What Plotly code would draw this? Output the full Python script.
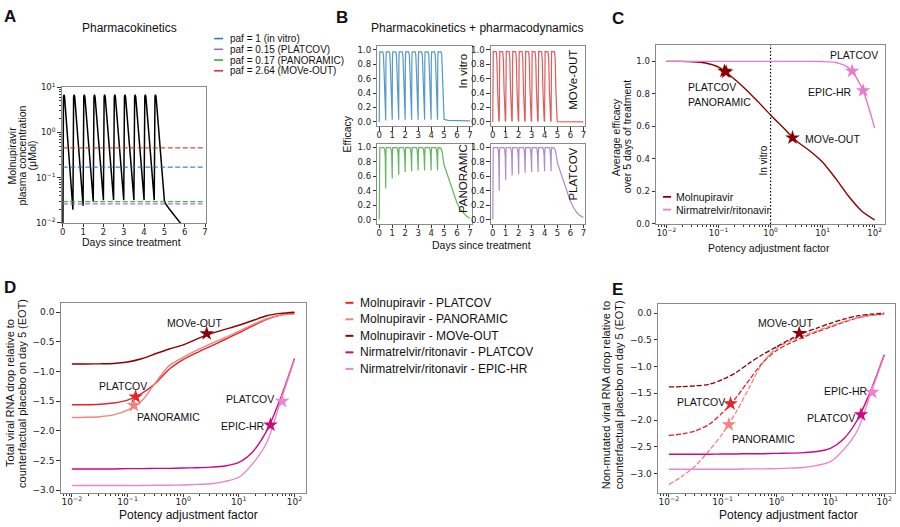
import numpy as np
import plotly.graph_objects as go

W, H = 900, 527


def px(x):
    return x / W


def py(y):
    return 1 - y / H


FONT = "Liberation Sans, Arial, Helvetica, sans-serif"
TICKFONT = "DejaVu Sans, sans-serif"
TXT = "#111111"

# ---------------- Panel A: pharmacokinetics ----------------
pk_days = [
    0.0, 0.015, 0.035, 0.06, 0.09,
    0.5, 0.515, 0.535, 0.56, 0.59,
    1.0, 1.015, 1.035, 1.06, 1.09,
    1.5, 1.515, 1.535, 1.56, 1.59,
    2.0, 2.015, 2.035, 2.06, 2.09,
    2.5, 2.515, 2.535, 2.56, 2.59,
    3.0, 3.015, 3.035, 3.06, 3.09,
    3.5, 3.515, 3.535, 3.56, 3.59,
    4.0, 4.015, 4.035, 4.06, 4.09,
    4.5, 4.515, 4.535, 4.56, 4.59,
    5.0, 5.05, 5.25, 5.5, 5.8]
pk_conc = [
    0.001, 2.5, 6.0, 6.8, 6.0,
    0.0197, 2.5, 6.0, 6.8, 6.0,
    0.024, 2.5, 6.0, 6.8, 6.0,
    0.0297, 2.5, 6.0, 6.8, 6.0,
    0.0317, 2.5, 6.0, 6.8, 6.0,
    0.032, 2.5, 6.0, 6.8, 6.0,
    0.032, 2.5, 6.0, 6.8, 6.0,
    0.032, 2.5, 6.0, 6.8, 6.0,
    0.032, 2.5, 6.0, 6.8, 6.0,
    0.032, 2.5, 6.0, 6.8, 6.0,
    0.031, 0.027, 0.020, 0.0145, 0.0098]
paf_labels = ["paf = 1 (in vitro)", "paf = 0.15 (PLATCOV)",
              "paf = 0.17 (PANORAMIC)", "paf = 2.64 (MOVe-OUT)"]
paf_thresholds = [0.171, 0.0265, 0.0297, 0.455]
paf_colors = ["#1f77b4", "#9467bd", "#2ca02c", "#d62728"]
day_span = [0, 7]

# ---------------- Panel B: pharmacodynamics ----------------
eff_days_fast = [
    0.0, 0.015, 0.04, 0.27, 0.32, 0.37, 0.42, 0.47,
    0.5, 0.515, 0.54, 0.77, 0.82, 0.87, 0.92, 0.97,
    1.0, 1.015, 1.04, 1.27, 1.32, 1.37, 1.42, 1.47,
    1.5, 1.515, 1.54, 1.77, 1.82, 1.87, 1.92, 1.97,
    2.0, 2.015, 2.04, 2.27, 2.32, 2.37, 2.42, 2.47,
    2.5, 2.515, 2.54, 2.77, 2.82, 2.87, 2.92, 2.97,
    3.0, 3.015, 3.04, 3.27, 3.32, 3.37, 3.42, 3.47,
    3.5, 3.515, 3.54, 3.77, 3.82, 3.87, 3.92, 3.97,
    4.0, 4.015, 4.04, 4.27, 4.32, 4.37, 4.42, 4.47,
    4.5, 4.515, 4.54, 4.77, 4.82, 4.87, 4.92, 4.97,
    5.0, 5.3, 6.0, 7.0]
eff_invitro = [
    0.0, 0.85, 0.97, 0.97, 0.93, 0.70, 0.25, 0.06,
    0.02, 0.85, 0.97, 0.97, 0.93, 0.70, 0.25, 0.06,
    0.03, 0.85, 0.97, 0.97, 0.93, 0.70, 0.25, 0.06,
    0.03, 0.85, 0.97, 0.97, 0.93, 0.70, 0.25, 0.06,
    0.03, 0.85, 0.97, 0.97, 0.93, 0.70, 0.25, 0.06,
    0.03, 0.85, 0.97, 0.97, 0.93, 0.70, 0.25, 0.06,
    0.03, 0.85, 0.97, 0.97, 0.93, 0.70, 0.25, 0.06,
    0.03, 0.85, 0.97, 0.97, 0.93, 0.70, 0.25, 0.06,
    0.03, 0.85, 0.97, 0.97, 0.93, 0.70, 0.25, 0.06,
    0.03, 0.85, 0.97, 0.97, 0.93, 0.70, 0.25, 0.06,
    0.035, 0.02, 0.016, 0.013]
eff_moveout = [
    0.0, 0.80, 0.975, 0.97, 0.86, 0.45, 0.08, 0.015,
    0.005, 0.80, 0.975, 0.97, 0.86, 0.45, 0.08, 0.015,
    0.005, 0.80, 0.975, 0.97, 0.86, 0.45, 0.08, 0.015,
    0.005, 0.80, 0.975, 0.97, 0.86, 0.45, 0.08, 0.015,
    0.005, 0.80, 0.975, 0.97, 0.86, 0.45, 0.08, 0.015,
    0.005, 0.80, 0.975, 0.97, 0.86, 0.45, 0.08, 0.015,
    0.005, 0.80, 0.975, 0.97, 0.86, 0.45, 0.08, 0.015,
    0.005, 0.80, 0.975, 0.97, 0.86, 0.45, 0.08, 0.015,
    0.005, 0.80, 0.975, 0.97, 0.86, 0.45, 0.08, 0.015,
    0.005, 0.80, 0.975, 0.97, 0.86, 0.45, 0.08, 0.015,
    0.004, 0.002, 0.001, 0.0]
eff_days_slow = [
    0.0, 0.015, 0.04, 0.36, 0.42, 0.46,
    0.5, 0.515, 0.54, 0.86, 0.92, 0.96,
    1.0, 1.015, 1.04, 1.36, 1.42, 1.46,
    1.5, 1.515, 1.54, 1.86, 1.92, 1.96,
    2.0, 2.015, 2.04, 2.36, 2.42, 2.46,
    2.5, 2.515, 2.54, 2.86, 2.92, 2.96,
    3.0, 3.015, 3.04, 3.36, 3.42, 3.46,
    3.5, 3.515, 3.54, 3.86, 3.92, 3.96,
    4.0, 4.015, 4.04, 4.36, 4.42, 4.46,
    4.5, 4.515, 4.54, 4.75, 4.85,
    5.0, 5.25, 5.5, 5.75, 6.0, 6.25, 6.5, 6.75, 7.0]
eff_panoramic = [
    0.0, 0.92, 0.998, 0.998, 0.97, 0.88,
    0.43, 0.92, 0.998, 0.998, 0.97, 0.88,
    0.57, 0.92, 0.998, 0.998, 0.97, 0.88,
    0.62, 0.92, 0.998, 0.998, 0.97, 0.88,
    0.66, 0.92, 0.998, 0.998, 0.97, 0.88,
    0.67, 0.92, 0.998, 0.998, 0.97, 0.88,
    0.68, 0.92, 0.998, 0.998, 0.97, 0.88,
    0.68, 0.92, 0.998, 0.998, 0.97, 0.88,
    0.68, 0.92, 0.998, 0.998, 0.97, 0.88,
    0.68, 0.92, 0.998, 0.99, 0.94,
    0.76, 0.62, 0.48, 0.34, 0.23, 0.14, 0.085, 0.045, 0.02]
eff_platcov = [
    0.0, 0.92, 0.998, 0.998, 0.97, 0.88,
    0.40, 0.92, 0.998, 0.998, 0.97, 0.88,
    0.55, 0.92, 0.998, 0.998, 0.97, 0.88,
    0.61, 0.92, 0.998, 0.998, 0.97, 0.88,
    0.63, 0.92, 0.998, 0.998, 0.97, 0.88,
    0.65, 0.92, 0.998, 0.998, 0.97, 0.88,
    0.66, 0.92, 0.998, 0.998, 0.97, 0.88,
    0.66, 0.92, 0.998, 0.998, 0.97, 0.88,
    0.67, 0.92, 0.998, 0.998, 0.97, 0.88,
    0.67, 0.92, 0.998, 0.99, 0.95,
    0.78, 0.64, 0.50, 0.36, 0.25, 0.16, 0.095, 0.055, 0.03]
b_panel_names = ["In vitro", "MOVe-OUT", "PANORAMIC", "PLATCOV"]
b_colors = ["#1f77b4", "#d62728", "#2ca02c", "#9467bd"]

# ---------------- Panels C, D, E: potency adjustment ----------------
paf_grid = [0.01, 0.0178, 0.0316, 0.0562, 0.1, 0.178, 0.316, 0.562, 1.0,
            1.78, 3.16, 5.62, 10.0, 17.8, 31.6, 56.2, 100.0]
c_eff_molnupiravir = [1.0, 1.0, 0.998, 0.99, 0.965, 0.905, 0.835, 0.755, 0.67,
                      0.59, 0.51, 0.45, 0.38, 0.28, 0.17, 0.08, 0.025]
c_eff_nirmatrelvir = [1.0, 1.0, 1.0, 1.0, 1.0, 1.0, 1.0, 1.0, 1.0,
                      1.0, 1.0, 1.0, 0.999, 0.993, 0.96, 0.84, 0.59]
in_vitro_paf = 1.0
c_ylim = [0.0, 1.1]

# trial star positions (paf values)
star_paf_mol = {"PLATCOV": 0.14, "PANORAMIC": 0.13, "MOVe-OUT": 2.64}
star_paf_nir = {"PLATCOV": 37.0, "EPIC-HR": 60.0}
c_star_mol = [0.935, 0.94, 0.53]
c_star_nir = [0.94, 0.82]

d_series_labels = ["Molnupiravir - PLATCOV", "Molnupiravir - PANORAMIC",
                   "Molnupiravir - MOVe-OUT", "Nirmatrelvir/ritonavir - PLATCOV",
                   "Nirmatrelvir/ritonavir - EPIC-HR"]
d_colors = ["#e3242b", "#f4837d", "#8b0000", "#cc0a80", "#ec84cf"]

d_mol_platcov = [-1.56, -1.558, -1.55, -1.53, -1.48, -1.37, -1.20, -0.96, -0.80,
                 -0.68, -0.57, -0.46, -0.35, -0.23, -0.12, -0.05, -0.02]
d_mol_panoramic = [-1.775, -1.77, -1.76, -1.73, -1.65, -1.50, -1.19, -0.90, -0.76,
                   -0.64, -0.53, -0.43, -0.32, -0.21, -0.11, -0.05, -0.03]
d_mol_moveout = [-0.873, -0.872, -0.87, -0.865, -0.84, -0.785, -0.70, -0.62, -0.55,
                 -0.45, -0.36, -0.29, -0.22, -0.14, -0.06, -0.02, 0.0]
nir_platcov = [-2.64, -2.64, -2.64, -2.64, -2.635, -2.635, -2.63, -2.63, -2.625,
               -2.62, -2.61, -2.59, -2.53, -2.35, -2.0, -1.45, -0.78]
nir_epichr = [-2.92, -2.92, -2.92, -2.92, -2.92, -2.92, -2.915, -2.915, -2.91,
              -2.90, -2.89, -2.85, -2.78, -2.55, -2.2, -1.5, -0.80]
d_star_mol = [-1.425, -1.57, -0.36]
d_star_nir = [-1.9, -1.5]

e_mol_platcov = [-2.29, -2.26, -2.20, -2.08, -1.86, -1.58, -1.24, -0.92, -0.70,
                 -0.56, -0.45, -0.35, -0.26, -0.17, -0.09, -0.04, -0.02]
e_mol_panoramic = [-3.21, -3.05, -2.85, -2.57, -2.25, -1.85, -1.38, -0.92, -0.65,
                   -0.52, -0.42, -0.33, -0.24, -0.16, -0.09, -0.04, -0.02]
e_mol_moveout = [-1.38, -1.375, -1.36, -1.33, -1.24, -1.11, -0.93, -0.77, -0.63,
                 -0.49, -0.37, -0.28, -0.19, -0.11, -0.05, -0.02, 0.0]
e_star_mol = [-1.695, -2.085, -0.378]
e_star_nir = [-1.9, -1.48]

# ---------------- figure ----------------
fig = go.Figure()


def line(x, y, ax, color, width=1.5, dash=None, shape="linear", opacity=1.0):
    fig.add_trace(go.Scatter(
        x=x, y=y, mode="lines", xaxis="x" + ax, yaxis="y" + ax,
        line=dict(color=color, width=width, dash=dash, shape=shape,
                  smoothing=0.8 if shape == "spline" else None),
        opacity=opacity, showlegend=False, hoverinfo="skip"))


def stars(x, y, ax, color, size=11):
    fig.add_trace(go.Scatter(
        x=x, y=y, mode="markers", xaxis="x" + ax, yaxis="y" + ax,
        marker=dict(symbol="star", size=size, color=color, line=dict(width=0)),
        showlegend=False, hoverinfo="skip"))


# A
line(pk_days, pk_conc, "", "black", width=1.5)
for thr, col in zip(paf_thresholds, paf_colors):
    line(day_span, [thr, thr], "", col, width=1.3, dash="5px,2.5px", opacity=0.85)

# B
b_days = [eff_days_fast, eff_days_fast, eff_days_slow, eff_days_slow]
b_vals = [eff_invitro, eff_moveout, eff_panoramic, eff_platcov]
for i, (dd, vv, col) in enumerate(zip(b_days, b_vals, b_colors)):
    line(dd, vv, str(i + 2), col, width=1.2, opacity=0.75)

# C
line([in_vitro_paf, in_vitro_paf], c_ylim, "6", "black", width=1.2, dash="1.5px,2px")
line(paf_grid, c_eff_molnupiravir, "6", "#8b0000", width=1.4, shape="spline")
line(paf_grid, c_eff_nirmatrelvir, "6", "#e87bcb", width=1.4, shape="spline")
stars(list(star_paf_mol.values()), c_star_mol, "6", "#8b0000")
stars(list(star_paf_nir.values()), c_star_nir, "6", "#e87bcb")

# D
d_lines = [d_mol_platcov, d_mol_panoramic, d_mol_moveout, nir_platcov, nir_epichr]
for vals, col in zip(d_lines, d_colors):
    line(paf_grid, vals, "7", col, width=1.4, shape="spline")
mol_star_x = list(star_paf_mol.values())
nir_star_x = list(star_paf_nir.values())
for j in range(3):
    stars([mol_star_x[j]], [d_star_mol[j]], "7", d_colors[j])
for j in range(2):
    stars([nir_star_x[j]], [d_star_nir[j]], "7", d_colors[3 + j])

# E
e_lines = [e_mol_platcov, e_mol_panoramic, e_mol_moveout]
for vals, col in zip(e_lines, d_colors[:3]):
    line(paf_grid, vals, "8", col, width=1.3, dash="5px,2px", shape="spline")
for vals, col in zip([nir_platcov, nir_epichr], d_colors[3:]):
    line(paf_grid, vals, "8", col, width=1.4, shape="spline")
for j in range(3):
    stars([mol_star_x[j]], [e_star_mol[j]], "8", d_colors[j])
for j in range(2):
    stars([nir_star_x[j]], [e_star_nir[j]], "8", d_colors[3 + j])

# ---------------- axes ----------------
boxes = {
    1: ((60, 205), (82, 221)),
    2: ((377, 472), (40, 122)),
    3: ((491, 586), (40, 122)),
    4: ((377, 472), (140, 222)),
    5: ((491, 586), (140, 222)),
    6: ((657, 887), (39, 222)),
    7: ((59, 305), (303, 497)),
    8: ((659, 897), (304, 497)),
}

log_major = [0.01, 0.1, 1, 10, 100]
log_major_text = ["10<sup>\u22122</sup>", "10<sup>\u22121</sup>", "10<sup>0</sup>",
                  "10<sup>1</sup>", "10<sup>2</sup>"]
log_minor = [m * 10.0 ** e for e in range(-3, 3) for m in range(2, 10)]


def base_axis(tsize=8.5):
    return dict(showline=True, linecolor="#8a8a8a", linewidth=1, mirror=True,
                ticks="outside", ticklen=3.5, tickwidth=0.8, tickcolor="#333",
                showgrid=False, zeroline=False,
                tickfont=dict(family=TICKFONT, size=tsize, color="#222"))


layout_axes = {}
for i, ((x0, x1), (y0, y1)) in boxes.items():
    sfx = "" if i == 1 else str(i)
    tsize = 9 if i in (7, 8) else 8.5
    xa = base_axis(tsize)
    ya = base_axis(tsize)
    xa.update(domain=[px(x0), px(x1)], anchor="y" + sfx, ticklabelstandoff=-3)
    ya.update(domain=[py(y1), py(y0)], anchor="x" + sfx)
    layout_axes["xaxis" + sfx] = xa
    layout_axes["yaxis" + sfx] = ya

# A
layout_axes["xaxis"].update(range=[-0.05, 7.05], tickvals=list(range(8)))
layout_axes["yaxis"].update(type="log", range=[-2, 1], tickvals=log_major[:4],
                            ticktext=log_major_text[:4],
                            minor=dict(tickvals=log_minor, ticks="outside", ticklen=2,
                                       tickwidth=0.6, tickcolor="#333"))
# B
for i in (2, 3, 4, 5):
    layout_axes[f"xaxis{i}"].update(range=[-0.15, 7.15], tickvals=list(range(8)))
    layout_axes[f"yaxis{i}"].update(range=[-0.06, 1.05],
                                    tickvals=[0, 0.2, 0.4, 0.6, 0.8, 1.0],
                                    tickformat=".1f")
# C, D, E
for i in (6, 7, 8):
    layout_axes[f"xaxis{i}"].update(type="log", range=[-2.2, 2.2], tickvals=log_major,
                                    ticktext=log_major_text,
                                    minor=dict(tickvals=log_minor, ticks="outside",
                                               ticklen=2, tickwidth=0.6, tickcolor="#333"))
layout_axes["yaxis6"].update(range=c_ylim, tickvals=[0, 0.2, 0.4, 0.6, 0.8, 1.0],
                             tickformat=".1f")
layout_axes["yaxis7"].update(range=[-3.04, 0.153],
                             tickvals=[0, -0.5, -1, -1.5, -2, -2.5, -3], tickformat=".1f")
layout_axes["yaxis8"].update(range=[-3.36, 0.17],
                             tickvals=[0, -0.5, -1, -1.5, -2, -2.5, -3], tickformat=".1f")

# ---------------- text ----------------
ann = []


def text(x, y, s, size=10.5, angle=0, xanchor="center", yanchor="middle",
         xref="paper", yref="paper", color=TXT, bold=False):
    ann.append(dict(x=x, y=y, text=("<b>%s</b>" % s) if bold else s, xref=xref,
                    yref=yref, showarrow=False, textangle=angle, xanchor=xanchor,
                    yanchor=yanchor, font=dict(family=FONT, size=size, color=color)))


# panel letters
for lab, (lx, ly) in zip("ABCDE", [(0, -2), (333, -1), (611, 0), (0, 275), (611, 277)]):
    text(px(lx), py(ly), lab, size=17, xanchor="left", yanchor="top", bold=True)

# titles
text(px(128), py(21), "Pharmacokinetics", size=12)
text(px(477), py(21), "Pharmacokinetics + pharmacodynamics", size=12)

# A axis titles
text(px(130), py(240), "Days since treatment", size=10.5)
for s, xx in zip(["Molnupiravir", "plasma concentration", "(\u03bcMol)"], [10, 20, 30]):
    text(px(xx), py(152), s, size=10.5, angle=-90)

# A legend
for i, (lab, col) in enumerate(zip(paf_labels, paf_colors)):
    yy = 32.3 + 11 * i
    fig.add_shape(type="line", xref="paper", yref="paper", x0=px(213), x1=px(222),
                  y0=py(yy), y1=py(yy), line=dict(color=col, width=1.5))
    text(px(227), py(yy), lab, size=10, xanchor="left")

# B labels
text(px(347), py(130), "Efficacy", size=10.5, angle=-90)
text(px(482), py(244), "Days since treatment", size=10.5)
b_label_pos = [(0.905, 0.695), (0.874, 0.585), (0.905, 0.573), (0.874, 0.622)]
for i, (nm, (bx, by)) in enumerate(zip(b_panel_names, b_label_pos)):
    text(bx, by, nm, size=11.5, angle=-90, xref=f"x{i + 2} domain", yref=f"y{i + 2} domain")

# C labels
text(px(770), py(247), "Potency adjustment factor", size=10.5)
text(px(617), py(133), "Average efficacy", size=10.5, angle=-90)
text(px(628), py(133), "over 5 days of treatment", size=10.5, angle=-90)
text(np.log10(in_vitro_paf), 0.39, "In vitro", size=10, angle=-90, xanchor="right",
     xref="x6", yref="y6")
text(-1.62, 0.84, "PLATCOV", xanchor="left", xref="x6", yref="y6")
text(-1.62, 0.75, "PANORAMIC", xanchor="left", xref="x6", yref="y6")
text(0.615, 0.52, "MOVe-OUT", xanchor="left", xref="x6", yref="y6")
text(1.096, 1.04, "PLATCOV", xanchor="left", xref="x6", yref="y6")
text(1.596, 0.81, "EPIC-HR", xanchor="right", xref="x6", yref="y6")
c_leg_labels = ["Molnupiravir", "Nirmatrelvir/ritonavir"]
c_leg_colors = ["#8b0000", "#e87bcb"]
for i, (lab, col) in enumerate(zip(c_leg_labels, c_leg_colors)):
    yy = 194.3 + 13 * i
    fig.add_shape(type="line", xref="paper", yref="paper", x0=px(664), x1=px(672),
                  y0=py(yy), y1=py(yy), line=dict(color=col, width=1.8))
    text(px(675), py(yy), lab, size=10.5, xanchor="left")

# D labels
text(px(187), py(519.5), "Potency adjustment factor", size=12)
text(px(8), py(395), "Total viral RNA drop relative to", size=11, angle=-90)
text(px(20), py(395), "counterfactual placebo on day 5 (EOT)", size=11, angle=-90)
text(0.20, -0.18, "MOVe-OUT", xref="x7", yref="y7")
text(-1.077, -1.24, "PLATCOV", xref="x7", yref="y7")
text(-0.265, -1.76, "PANORAMIC", xref="x7", yref="y7")
text(1.2, -1.456, "PLATCOV", xref="x7", yref="y7")
text(1.066, -1.92, "EPIC-HR", xref="x7", yref="y7")

# E labels
text(px(790), py(519.5), "Potency adjustment factor", size=12)
text(px(607), py(397), "Non-mutated viral RNA drop relative to", size=11, angle=-90)
text(px(620), py(397), "counterfactual placebo on day 5 (EOT)", size=11, angle=-90)
text(0.162, -0.183, "MOVe-OUT", xref="x8", yref="y8")
text(-1.408, -1.658, "PLATCOV", xref="x8", yref="y8")
text(-0.239, -2.347, "PANORAMIC", xref="x8", yref="y8")
text(1.291, -1.463, "EPIC-HR", xref="x8", yref="y8")
text(1.02, -1.963, "PLATCOV", xref="x8", yref="y8")

# middle legend
for i, (lab, col) in enumerate(zip(d_series_labels, d_colors)):
    yy = 302.7 + 16.9 * i
    fig.add_shape(type="line", xref="paper", yref="paper", x0=px(345), x1=px(353),
                  y0=py(yy), y1=py(yy), line=dict(color=col, width=2))
    text(px(358), py(yy), lab, size=12, xanchor="left")

fig.update_layout(
    width=W, height=H, margin=dict(l=0, r=0, t=0, b=0),
    paper_bgcolor="white", plot_bgcolor="white", showlegend=False,
    font=dict(family=FONT, color=TXT), annotations=ann, **layout_axes)

fig.write_html("out.html")
